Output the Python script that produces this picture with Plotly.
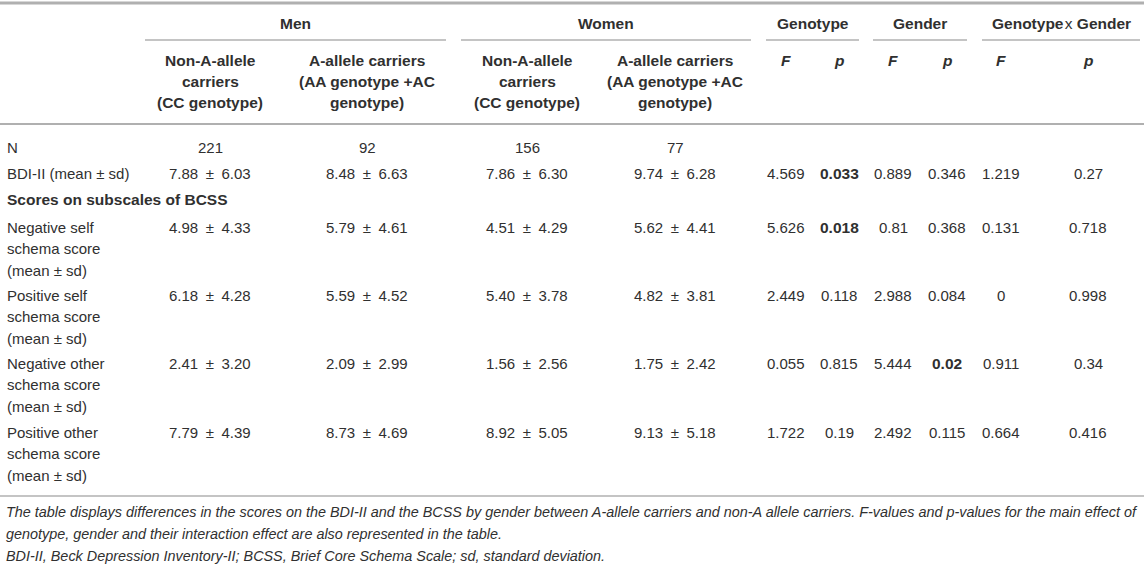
import plotly.graph_objects as go

PM = "\u2002±\u2002"  # the numbers use a wider gap round the plus-minus sign

# table content
row_labels = [
    ["N"],
    ["BDI-II (mean ± sd)"],
    ["Negative self", "schema score", "(mean ± sd)"],
    ["Positive self", "schema score", "(mean ± sd)"],
    ["Negative other", "schema score", "(mean ± sd)"],
    ["Positive other", "schema score", "(mean ± sd)"],
]
section_label = "Scores on subscales of BCSS"

men_non_a = ["221", "7.88|6.03", "4.98|4.33", "6.18|4.28", "2.41|3.20", "7.79|4.39"]
men_a = ["92", "8.48|6.63", "5.79|4.61", "5.59|4.52", "2.09|2.99", "8.73|4.69"]
women_non_a = ["156", "7.86|6.30", "4.51|4.29", "5.40|3.78", "1.56|2.56", "8.92|5.05"]
women_a = ["77", "9.74|6.28", "5.62|4.41", "4.82|3.81", "1.75|2.42", "9.13|5.18"]
genotype_f = ["", "4.569", "5.626", "2.449", "0.055", "1.722"]
genotype_p = ["", "0.033", "0.018", "0.118", "0.815", "0.19"]
gender_f = ["", "0.889", "0.81", "2.988", "5.444", "2.492"]
gender_p = ["", "0.346", "0.368", "0.084", "0.02", "0.115"]
gxg_f = ["", "1.219", "0.131", "0", "0.911", "0.664"]
gxg_p = ["", "0.27", "0.718", "0.998", "0.34", "0.416"]

group_headers = ["Men", "Women", "Genotype", "Gender", "Genotype</b>\u200ax <b>Gender"]
sub_headers = [
    ["Non-A-allele", "carriers", "(CC genotype)"],
    ["A-allele carriers", "(AA genotype +AC", "genotype)"],
    ["Non-A-allele", "carriers", "(CC genotype)"],
    ["A-allele carriers", "(AA genotype +AC", "genotype)"],
    ["<i>F</i>"], ["<i>p</i>"], ["<i>F</i>"], ["<i>p</i>"], ["<i>F</i>"], ["<i>p</i>"],
]

footnotes = [
    "The table displays differences in the scores on the BDI-II and the BCSS by gender between A-allele carriers and non-A allele carriers. F-values and p-values for the main effect of",
    "genotype, gender and their interaction effect are also represented in the table.",
    "BDI-II, Beck Depression Inventory-II; BCSS, Brief Core Schema Scale; sd, standard deviation.",
]

# layout of the table (pixel grid)
W, H = 1144, 564
TXT = "#303030"
RULE = "#b0b0b0"
FONT = "Liberation Sans, Arial, sans-serif"
FS = 15
FS_BOLD = 15.5
FS_NOTE = 14.4

col_x = [210, 367, 527, 675, 786, 839, 893, 947, 1001, 1088]
group_spans = [(145, 446), (461, 751), (766, 859), (873, 967), (982, 1140)]
row_y = [147, 173, 227, 295, 363, 432]
section_y = 199
line_h = 21.7

columns = [men_non_a, men_a, women_non_a, women_a,
           genotype_f, genotype_p, gender_f, gender_p, gxg_f, gxg_p]
p_cols = {5, 7, 9}

fig = go.Figure()
ann = []


def txt(x, y, s, xanchor="center", size=FS, bold=False):
    if bold:
        s = f"<b>{s}</b>"
    ann.append(dict(x=x, y=y, text=s, xref="x", yref="y", showarrow=False,
                    xanchor=xanchor, yanchor="middle",
                    font=dict(family=FONT, size=size, color=TXT)))


def hline(x0, x1, y, width):
    fig.add_shape(type="line", xref="x", yref="y", x0=x0, x1=x1, y0=y, y1=y,
                  line=dict(color=RULE, width=width))


# group headers + underlines
for name, (x0, x1) in zip(group_headers, group_spans):
    txt((x0 + x1) / 2, 23, name, size=FS_BOLD, bold=True)
    hline(x0, x1, 40, 1.5)

# sub headers
for cx, lines in zip(col_x, sub_headers):
    for i, s in enumerate(lines):
        txt(cx, 60 + i * 21, s, size=FS_BOLD, bold=True)

# rules
hline(0, W, 3, 3)
hline(0, W, 124, 2)
hline(0, W, 496, 1.5)

# body
for r, lines in enumerate(row_labels):
    for i, s in enumerate(lines):
        txt(5, row_y[r] + i * line_h, s, xanchor="left")
    for c, (cx, col) in enumerate(zip(col_x, columns)):
        v = col[r]
        if not v:
            continue
        if c in p_cols and float(v) < 0.05:
            txt(cx, row_y[r], v, size=FS_BOLD, bold=True)
        else:
            txt(cx, row_y[r], v.replace("|", PM))

txt(5, section_y, section_label, xanchor="left", size=FS_BOLD, bold=True)

# footnotes
for i, s in enumerate(footnotes):
    txt(4, 512 + i * 22, f"<i>{s}</i>", xanchor="left", size=FS_NOTE)

fig.update_layout(
    width=W, height=H,
    margin=dict(l=0, r=0, t=0, b=0),
    paper_bgcolor="white", plot_bgcolor="white",
    xaxis=dict(range=[0, W], visible=False, fixedrange=True),
    yaxis=dict(range=[H, 0], visible=False, fixedrange=True),
    annotations=ann,
    showlegend=False,
)

fig.write_html("out.html", config={"displayModeBar": False},
               post_script="document.body.style.margin='0';")
